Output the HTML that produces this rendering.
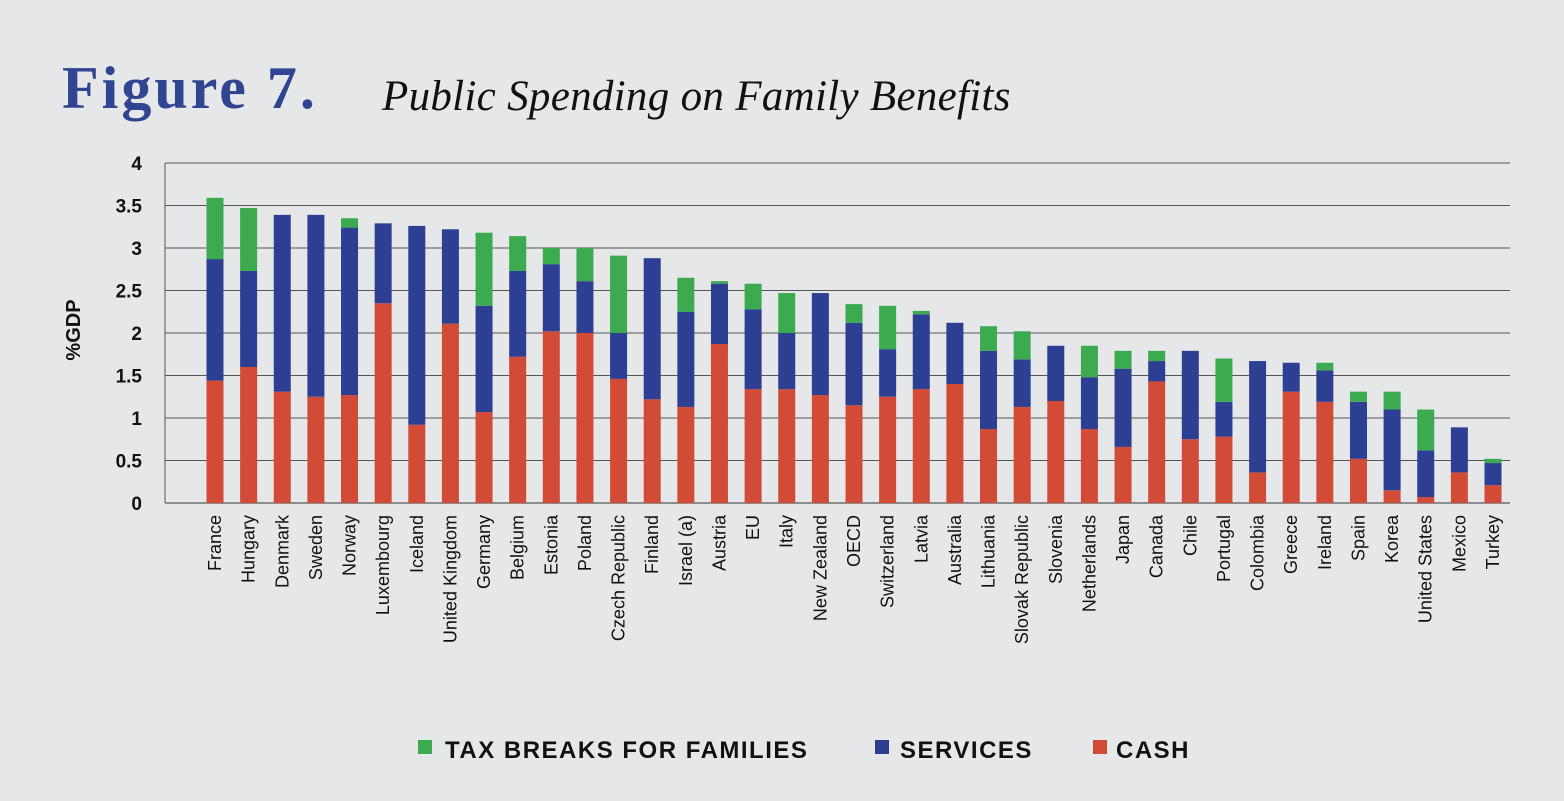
<!DOCTYPE html>
<html><head><meta charset="utf-8"><style>
body{margin:0;background:#e6e7e9;width:1564px;height:796px;overflow:hidden;font-family:"Liberation Sans",sans-serif}
</style></head><body>
<svg width="1564" height="796">
<text x="62" y="108" font-family="Liberation Serif,serif" font-size="60" font-weight="bold" letter-spacing="3" fill="#2f4592">Figure 7.</text>
<text x="382" y="110" font-family="Liberation Serif,serif" font-style="italic" font-size="43" letter-spacing="0.3" fill="#111">Public Spending on Family Benefits</text>
<g id="grid"></g><g id="bars"></g><g id="xl"></g>
<text transform="translate(80,330) rotate(-90)" text-anchor="middle" font-size="20" font-weight="bold" fill="#111">%GDP</text>
<g font-size="24" font-weight="bold" fill="#111" letter-spacing="1.5">
<rect x="418" y="740" width="14" height="14" fill="#3cab4f"/><text x="445" y="758">TAX BREAKS FOR FAMILIES</text>
<rect x="875" y="740" width="14" height="14" fill="#2d3f93"/><text x="900" y="758">SERVICES</text>
<rect x="1093" y="740" width="14" height="14" fill="#d24b36"/><text x="1116" y="758">CASH</text>
</g>
</svg>
<script>
const categories=["France","Hungary","Denmark","Sweden","Norway","Luxembourg","Iceland","United Kingdom","Germany","Belgium","Estonia","Poland","Czech Republic","Finland","Israel (a)","Austria","EU","Italy","New Zealand","OECD","Switzerland","Latvia","Australia","Lithuania","Slovak Republic","Slovenia","Netherlands","Japan","Canada","Chile","Portugal","Colombia","Greece","Ireland","Spain","Korea","United States","Mexico","Turkey"];
const cash=[1.44,1.6,1.31,1.25,1.27,2.35,0.92,2.11,1.07,1.72,2.02,2.0,1.46,1.22,1.13,1.87,1.34,1.34,1.27,1.15,1.25,1.34,1.4,0.87,1.13,1.2,0.87,0.66,1.43,0.75,0.78,0.36,1.31,1.19,0.52,0.15,0.07,0.36,0.21];
const services=[1.43,1.13,2.08,2.14,1.97,0.94,2.34,1.11,1.25,1.01,0.79,0.61,0.54,1.66,1.12,0.71,0.94,0.66,1.2,0.97,0.56,0.88,0.72,0.92,0.56,0.65,0.61,0.92,0.24,1.04,0.41,1.31,0.34,0.37,0.67,0.95,0.55,0.53,0.26];
const tax=[0.72,0.74,0,0,0.11,0,0,0,0.86,0.41,0.19,0.39,0.91,0,0.4,0.03,0.3,0.47,0,0.22,0.51,0.04,0,0.29,0.33,0,0.37,0.21,0.12,0,0.51,0,0,0.09,0.12,0.21,0.48,0,0.05];
const yTicks=[0,0.5,1,1.5,2,2.5,3,3.5,4];
const NS="http://www.w3.org/2000/svg";
const y=v=>503-v*85, x=i=>215+i*(1493-215)/(categories.length-1);
function mk(t,a,p){const e=document.createElementNS(NS,t);for(const k in a)e.setAttribute(k,a[k]);p.appendChild(e);return e;}
const grid=document.getElementById('grid');
yTicks.forEach(t=>{
 const l=mk('line',{x1:165,x2:1510,y1:y(t),y2:y(t),stroke:t===0?'#333':'#555','stroke-width':1},grid);
 
 
 const tx=mk('text',{x:142,y:y(t)+7,'text-anchor':'end','font-size':19,'font-weight':'bold',fill:'#111'},grid);
 tx.textContent=t;
 
 
});
mk('line',{x1:165,x2:165,y1:163,y2:503,stroke:'#555'},grid);
const bars=document.getElementById('bars'),xl=document.getElementById('xl');
categories.forEach((c,i)=>{
 const cx=x(i),w=17;
 const segs=[[0,cash[i],'#d24b36','cash'],[cash[i],cash[i]+services[i],'#2d3f93','services'],[cash[i]+services[i],cash[i]+services[i]+tax[i],'#3cab4f','tax']];
 segs.forEach(s=>{if(s[1]<=s[0])return;
  const r=mk('rect',{x:cx-w/2,y:y(s[1]),width:w,height:y(s[0])-y(s[1]),fill:s[2]},bars);
  
  
 });
 const t=mk('text',{transform:`translate(${cx+6},515) rotate(-90)`,'text-anchor':'end','font-size':18,fill:'#111'},xl);
 t.textContent=c;
 
 
});
</script>
</body></html>
